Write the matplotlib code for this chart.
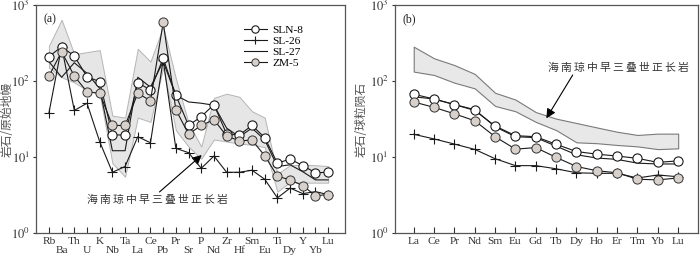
import numpy as np
import matplotlib
matplotlib.use("Agg")
import matplotlib.pyplot as plt

plt.rcParams['font.family'] = ['Liberation Serif', 'Noto Sans CJK SC', 'DejaVu Sans']
plt.rcParams['mathtext.fontset'] = 'stix'

# ---- panel (a): primitive mantle normalised trace elements
spider_elems = ["Rb", "Ba", "Th", "U", "K", "Nb", "Ta", "La", "Ce", "Pb", "Pr", "Sr",
                "P", "Nd", "Zr", "Hf", "Sm", "Eu", "Ti", "Dy", "Y", "Yb", "Lu"]
sln8_a = [209, 283, 213, 114, 98, 19.5, 19.5, 95, 76, 199, 65, 26,
          34, 49, 20, 19.5, 26, 18, 8.3, 9.4, 7.7, 6.2, 6.3]
sl26_a = [38, 283, 41, 51, 15.9, 6.3, 7.5, 18.5, 15.4, 189, 13, 11.4,
          7.1, 10.3, 6.3, 6.3, 6.7, 5.1, 2.9, 3.9, 3.3, 3.5, 3.2]
sl27_a = [180, 112, 174, 126, 80, 12.1, 12.1, 112, 83, 180, 65, 53,
          51, 48, 24, 18.5, 24, 16.8, 7.5, 7.9, 6.4, 5.0, 5.0]
zm5_a = [116, 243, 116, 72, 69, 26, 26, 69, 55, 591, 42, 20,
         26, 31, 18.9, 16.3, 16.7, 10.4, 5.6, 5.0, 4.2, 3.1, 3.2]
band_a_hi = [290, 640, 225, 240, 255, 35, 33, 265, 180, 520, 108, 28,
             13.7, 60, 68, 62, 40, 33, 6.0, 7.8, 7.9, 7.8, 7.6]
band_a_lo = [150, 112, 96, 75, 68, 8.3, 5.5, 33, 29, 150, 22.6, 13.7,
             9.5, 17, 16, 15, 14.5, 13.5, 3.5, 4.7, 4.6, 4.6, 4.6]

# ---- panel (b): chondrite normalised REE
ree_elems = ["La", "Ce", "Pr", "Nd", "Sm", "Eu", "Gd", "Tb", "Dy", "Ho", "Er", "Tm", "Yb", "Lu"]
sln8_b = [67, 58, 49, 41, 25.6, 19.1, 18.5, 14.7, 11.8, 10.9, 10.3, 9.6, 8.5, 8.9]
sl26_b = [19.9, 17.3, 14.8, 12.6, 9.5, 7.7, 7.7, 7.0, 6.2, 6.1, 6.1, 5.3, 5.8, 5.5]
sl27_b = [62, 58, 49, 42, 25, 18.5, 18, 13.9, 10.7, 9.7, 9.3, 8.3, 8.1, 8.1]
zm5_b = [53, 45, 37, 30, 18.5, 12.7, 13.3, 9.9, 7.5, 6.6, 6.2, 5.1, 5.0, 5.3]
band_b_hi = [283, 199, 162, 124, 70, 57, 39, 32, 28, 24.5, 21.5, 19.5, 20.3, 20.3]
band_b_lo = [133, 120, 95, 80, 47, 40, 29, 22.6, 15.6, 15.2, 14.4, 13.8, 12.7, 13.0]

note = "\u2009".join("海南琼中早三叠世正长岩")
ink = "#1a1a1a"
grey_fill = "#d8d0ca"
cjk = ["Noto Sans CJK SC", "DejaVu Sans"]


def draw_series(ax, x, sln8, sl26, sl27, zm5):
    ax.plot(x, sl27, color=ink, lw=0.8, label="SL-27", zorder=3)
    ax.plot(x, sl26, color=ink, lw=0.8, marker="+", ms=6.5, mew=0.8, label="SL-26", zorder=4)
    ax.plot(x, sln8, color=ink, lw=0.8, marker="o", ms=6.6, mfc="white", mec=ink,
            mew=0.8, label="SLN-8", zorder=5)
    ax.plot(x, zm5, color=ink, lw=0.8, marker="o", ms=6.6, mfc=grey_fill, mec="#333333",
            mew=0.7, label="ZM-5", zorder=5)


def style_axes(ax, labels, ylabel, tag, label_x):
    ax.set_yscale("log")
    ax.set_ylim(1, 1000)
    ax.set_yticks([1, 10, 100, 1000])
    ax.set_yticklabels([r"$10^{0}$", r"$10^{1}$", r"$10^{2}$", r"$10^{3}$"])
    ax.minorticks_off()
    ax.set_xticks(np.arange(len(labels)))
    ax.set_xticklabels(labels)
    ax.tick_params(axis="x", direction="in", length=4, width=0.8, pad=3,
                   labelsize=8.2, colors="#333333")
    ax.tick_params(axis="y", direction="out", length=2.5, width=0.8, pad=2,
                   labelsize=9, colors="#333333")
    for s in ax.spines.values():
        s.set_color("#555555")
        s.set_linewidth(0.9)
    ax.set_ylabel(ylabel, fontsize=8.5, color="#555555", family=cjk)
    ax.yaxis.set_label_coords(label_x, 0.5)
    ax.text(0.025, 0.965, tag, transform=ax.transAxes, fontsize=8.5, va="top", ha="left",
            color="#222222")


fig = plt.figure(figsize=(7, 2.63), dpi=100)
ax_a = fig.add_axes([0.0514, 0.114, 0.441, 0.867])
ax_b = fig.add_axes([0.564, 0.114, 0.433, 0.867])

# panel (a)
xa = np.arange(len(spider_elems))
ax_a.fill_between(xa, band_a_lo, band_a_hi, facecolor="#e6e6e6", edgecolor="#b5b5b5",
                  lw=0.7, zorder=1)
draw_series(ax_a, xa, sln8_a, sl26_a, sl27_a, zm5_a)
ax_a.set_xlim(-1.02, 23.3)
labels_a = [e if i % 2 == 0 else "\n" + e for i, e in enumerate(spider_elems)]
style_axes(ax_a, labels_a, "岩石/原始地幔", "(a)", -0.072)
for t in ax_a.get_xticklabels():
    t.set_linespacing(1.0)
handles, labs = ax_a.get_legend_handles_labels()
order = [labs.index(n) for n in ["SLN-8", "SL-26", "SL-27", "ZM-5"]]
ax_a.legend([handles[i] for i in order], [labs[i] for i in order], loc="upper left",
            bbox_to_anchor=(0.655, 0.935), frameon=False, fontsize=8.2, handlelength=2.0,
            handletextpad=0.5, labelspacing=0.08, borderpad=0, markerscale=0.8)
ax_a.text(0.395, 0.145, note, transform=ax_a.transAxes, ha="center", va="center",
          fontsize=7.8, color="#333333", family=cjk)
ax_a.annotate("", xy=(0.537, 0.342), xytext=(0.40, 0.18), xycoords="axes fraction",
              textcoords="axes fraction",
              arrowprops=dict(arrowstyle="-|>", color="black", lw=0.8, mutation_scale=14,
                              shrinkA=0, shrinkB=0))

# panel (b)
xb = np.arange(len(ree_elems))
ax_b.fill_between(xb, band_b_lo, band_b_hi, facecolor="#e8e8e8", edgecolor="#7a7a7a",
                  lw=0.8, zorder=1)
draw_series(ax_b, xb, sln8_b, sl26_b, sl27_b, zm5_b)
ax_b.set_xlim(-0.93, 13.97)
style_axes(ax_b, ree_elems, "岩石/球粒陨石", "(b)", -0.09)
ax_b.text(0.739, 0.724, note, transform=ax_b.transAxes, ha="center", va="center",
          fontsize=7.8, color="#333333", family=cjk)
ax_b.annotate("", xy=(0.50, 0.503), xytext=(0.587, 0.693), xycoords="axes fraction",
              textcoords="axes fraction",
              arrowprops=dict(arrowstyle="-|>", color="black", lw=0.8, mutation_scale=14,
                              shrinkA=0, shrinkB=0))

fig.savefig("out.png", dpi=100)
